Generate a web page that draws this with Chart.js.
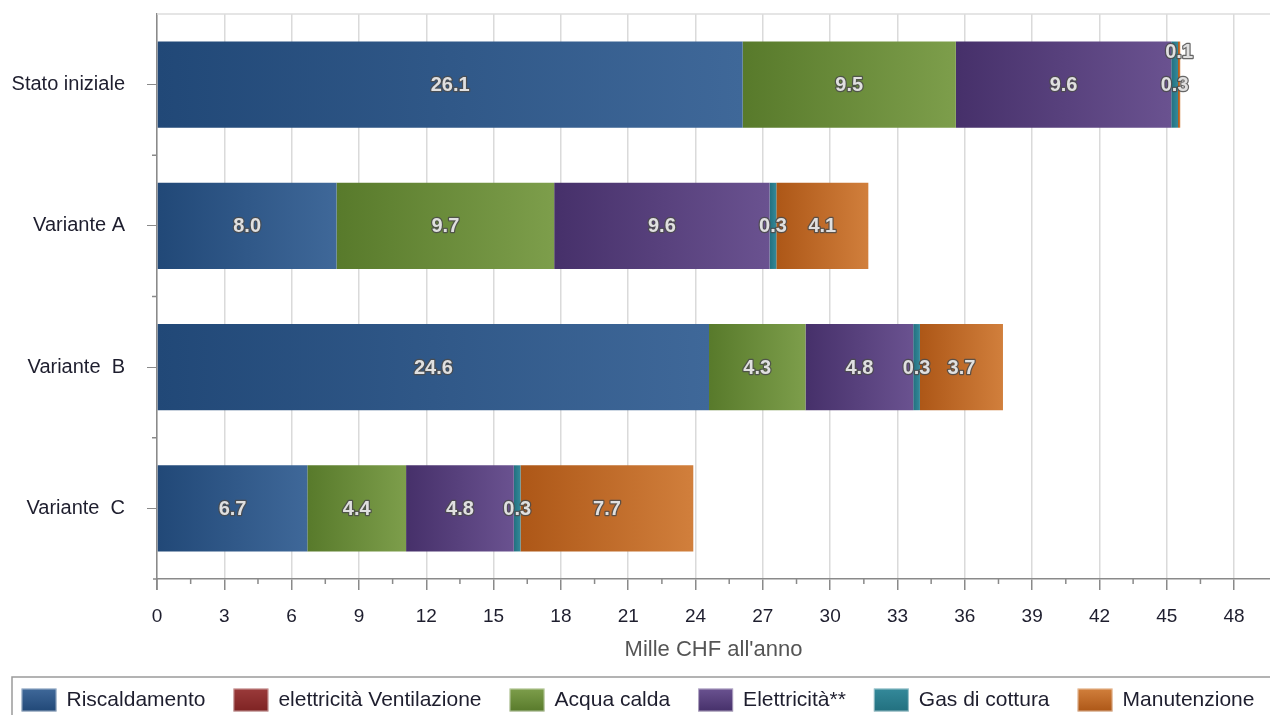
<!DOCTYPE html>
<html>
<head>
<meta charset="utf-8">
<script src="https://cdn.jsdelivr.net/npm/chart.js@4/dist/chart.umd.min.js"></script>
<style>
  html, body { margin: 0; padding: 0; background: #fff; }
  #wrap { width: 1270px; height: 715px; position: relative; }
</style>
</head>
<body>
<div id="wrap"><canvas id="costChart"></canvas></div>
<script>
const categories = ["Stato iniziale", "Variante A", "Variante  B", "Variante  C"];

const riscaldamento = [26.1, 8.0, 24.6, 6.7];
const ventilazione = [0, 0, 0, 0];
const acquaCalda = [9.5, 9.7, 4.3, 4.4];
const elettricita = [9.6, 9.6, 4.8, 4.8];
const gasCottura = [0.3, 0.3, 0.3, 0.3];
const manutenzione = [0.1, 4.1, 3.7, 7.7];

const seriesNames = ["Riscaldamento", "elettricità Ventilazione", "Acqua calda", "Elettricità**", "Gas di cottura", "Manutenzione"];
const seriesValues = [riscaldamento, ventilazione, acquaCalda, elettricita, gasCottura, manutenzione];

// dark (left) -> light (right) for each segment
const gradColors = [
    ["#214877", "#3f6899"],
    ["#7e2323", "#9a3a3a"],
    ["#587a2b", "#7d9e4b"],
    ["#46306a", "#6a5290"],
    ["#22707f", "#34899a"],
    ["#ad5717", "#d17f3c"],
];
const legendColors = ["#2d5888", "#8b2e2e", "#6a8a38", "#563d7a", "#2c7f8e", "#bf6a28"];

const FONT = "'Liberation Sans', Arial, sans-serif";
const TEXT = "#1e1e2e";

function segmentFill(dsIndex) {
    return function (context) {
        if (context.type !== "data") return legendColors[dsIndex];
        const chart = context.chart;
        const xs = chart.scales.x;
        if (!xs || !chart.chartArea) return legendColors[dsIndex];
        const i = context.dataIndex;
        let start = 0;
        for (let k = 0; k < dsIndex; k++) start += seriesValues[k][i];
        const end = start + seriesValues[dsIndex][i];
        const x0 = xs.getPixelForValue(start);
        const x1 = xs.getPixelForValue(end);
        if (!isFinite(x0) || !isFinite(x1) || x1 - x0 < 1) return gradColors[dsIndex][0];
        const g = chart.ctx.createLinearGradient(x0, 0, x1, 0);
        g.addColorStop(0, gradColors[dsIndex][0]);
        g.addColorStop(1, gradColors[dsIndex][1]);
        return g;
    };
}

const datasets = seriesNames.map((name, d) => ({
    label: name,
    data: seriesValues[d],
    backgroundColor: segmentFill(d),
    borderWidth: 0,
    barPercentage: 0.61,
    categoryPercentage: 1.0,
}));

function isMajor(v) {
    return Math.abs(v / 3 - Math.round(v / 3)) < 1e-6;
}

// value labels in the centre of every segment
const valueLabels = {
    id: "valueLabels",
    afterDatasetsDraw(chart) {
        const ctx = chart.ctx;
        ctx.save();
        ctx.font = "bold 20px " + FONT;
        ctx.textAlign = "center";
        ctx.textBaseline = "middle";
        ctx.lineJoin = "round";
        const placed = {};
        chart.data.datasets.forEach((ds, d) => {
            const meta = chart.getDatasetMeta(d);
            meta.data.forEach((bar, i) => {
                const v = ds.data[i];
                if (!v) return;
                const txt = v.toFixed(1);
                const x = (bar.x + bar.base) / 2;
                let y = bar.y + 1;
                const w = ctx.measureText(txt).width;
                const prev = placed[i];
                if (prev && prev.y === y && x - w / 2 < prev.x + prev.w / 2) y -= 33;
                placed[i] = { x: x, y: y, w: w };
                ctx.lineWidth = 2.5;
                ctx.strokeStyle = "rgba(75,75,75,0.85)";
                ctx.strokeText(txt, x, y);
                ctx.fillStyle = "#e0e0e0";
                ctx.fillText(txt, x, y);
            });
        });
        ctx.restore();
    },
};

// plot top border, minor tick marks, axis stubs
const axisDecor = {
    id: "axisDecor",
    afterDraw(chart) {
        const a = chart.chartArea;
        const ctx = chart.ctx;
        const xs = chart.scales.x;
        const ys = chart.scales.y;
        ctx.save();
        ctx.strokeStyle = "#dcdcdc";
        ctx.lineWidth = 1.5;
        ctx.beginPath();
        ctx.moveTo(a.left, a.top);
        ctx.lineTo(a.right, a.top);
        ctx.stroke();

        ctx.strokeStyle = "#8a8a8a";
        ctx.beginPath();
        xs.ticks.forEach((t) => {
            if (isMajor(t.value) || t.value > 48) return;
            const px = xs.getPixelForValue(t.value);
            ctx.moveTo(px, a.bottom);
            ctx.lineTo(px, a.bottom + 5);
        });
        for (let i = 0; i < categories.length - 1; i++) {
            const py = (ys.getPixelForValue(i) + ys.getPixelForValue(i + 1)) / 2;
            ctx.moveTo(a.left - 5, py);
            ctx.lineTo(a.left, py);
        }
        ctx.moveTo(a.left, a.bottom);
        ctx.lineTo(a.left, a.bottom + 11);
        ctx.moveTo(a.left - 4, a.bottom);
        ctx.lineTo(a.left, a.bottom);
        ctx.stroke();
        ctx.restore();
    },
};

// legend row in a framed box under the axis title
const legendBox = {
    id: "legendBox",
    afterDraw(chart) {
        const ctx = chart.ctx;
        const top = chart.height - 38;
        const swW = 35, swH = 23, gapText = 10, gapItem = 28;
        ctx.save();
        ctx.strokeStyle = "#9a9a9a";
        ctx.lineWidth = 1.5;
        ctx.strokeRect(12, top, chart.width + 10, 60);
        ctx.font = "21px " + FONT;
        ctx.textBaseline = "middle";
        ctx.textAlign = "left";
        const widths = seriesNames.map((n) => ctx.measureText(n).width);
        let total = 0;
        widths.forEach((w) => { total += swW + gapText + w; });
        total += gapItem * (seriesNames.length - 1);
        let x = 638 - total / 2;
        const cy = top + 23;
        seriesNames.forEach((n, d) => {
            const g = ctx.createLinearGradient(0, cy - swH / 2, 0, cy + swH / 2);
            g.addColorStop(0, gradColors[d][1]);
            g.addColorStop(1, gradColors[d][0]);
            ctx.fillStyle = g;
            ctx.fillRect(x, cy - swH / 2, swW, swH);
            ctx.strokeStyle = "rgba(255,255,255,0.5)";
            ctx.lineWidth = 1;
            ctx.strokeRect(x + 0.5, cy - swH / 2 + 0.5, swW - 1, swH - 1);
            ctx.fillStyle = TEXT;
            ctx.fillText(n, x + swW + gapText, cy);
            x += swW + gapText + widths[d] + gapItem;
        });
        ctx.restore();
    },
};

new Chart(document.getElementById("costChart"), {
    type: "bar",
    data: { labels: categories, datasets: datasets },
    plugins: [valueLabels, axisDecor, legendBox],
    options: {
        indexAxis: "y",
        responsive: true,
        maintainAspectRatio: false,
        animation: false,
        layout: { padding: { top: 14, right: 0, left: 0, bottom: 40 } },
        scales: {
            x: {
                stacked: true,
                min: 0,
                max: 49.6,
                afterFit: (scale) => {
                    scale.height = 96;
                    scale.paddingLeft = 0;
                    scale.paddingRight = 0;
                },
                border: { color: "#8a8a8a", width: 1.5 },
                grid: {
                    color: (c) => (c.tick && isMajor(c.tick.value) ? "#dadada" : "rgba(0,0,0,0)"),
                    lineWidth: 1.5,
                    tickColor: (c) => (c.tick && isMajor(c.tick.value) ? "#8a8a8a" : "rgba(0,0,0,0)"),
                    tickLength: 11,
                },
                ticks: {
                    stepSize: 1.5,
                    autoSkip: false,
                    maxRotation: 0,
                    padding: 15,
                    color: TEXT,
                    font: { family: FONT, size: 19 },
                    callback: (v) => (isMajor(v) ? String(Math.round(v)) : ""),
                },
                title: {
                    display: true,
                    text: "Mille CHF all'anno",
                    color: "#555555",
                    font: { family: FONT, size: 22 },
                    padding: { top: 0, bottom: 12 },
                },
            },
            y: {
                stacked: true,
                afterFit: (scale) => {
                    scale.width = 157;
                    scale.paddingTop = 0;
                    scale.paddingBottom = 0;
                },
                border: { color: "#8a8a8a", width: 1.5 },
                grid: {
                    offset: false,
                    drawOnChartArea: false,
                    tickColor: "#8a8a8a",
                    tickLength: 10,
                },
                ticks: {
                    padding: 22,
                    color: TEXT,
                    font: { family: FONT, size: 20 },
                },
            },
        },
        plugins: {
            legend: { display: false },
            tooltip: { enabled: false },
        },
    },
});
</script>
</body>
</html>
